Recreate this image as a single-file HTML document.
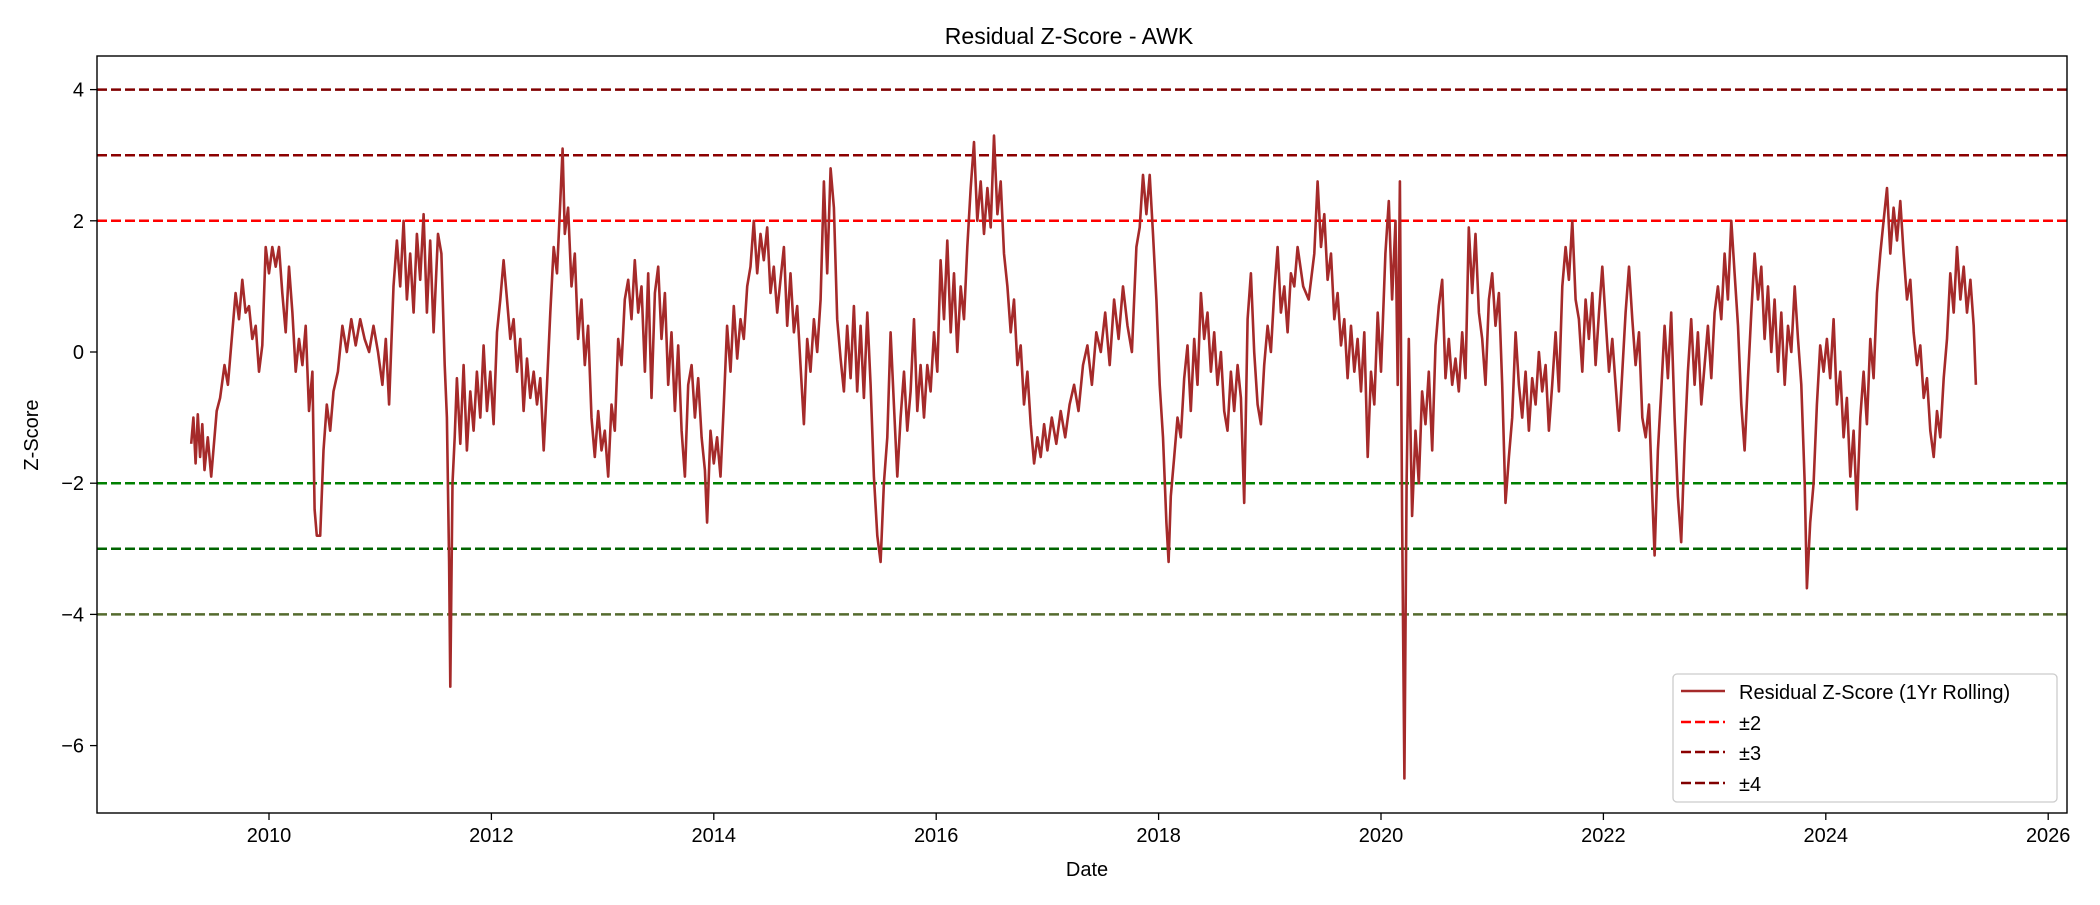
<!DOCTYPE html>
<html><head><meta charset="utf-8">
<style>
body{margin:0;background:#fff;}
svg text{font-family:"Liberation Sans","DejaVu Sans",sans-serif;fill:#000;}
</style></head>
<body>
<svg id="chart" width="2100" height="900" xmlns="http://www.w3.org/2000/svg">
<rect width="2100" height="900" fill="#fff"/>
<text x="1069" y="44" font-size="23" text-anchor="middle">Residual Z-Score - AWK</text>
<g id="plot"></g>
<rect x="97" y="56" width="1970" height="757" fill="none" stroke="#000" stroke-width="1.4"/>
<g id="yticks"></g><g id="xticks"></g>
<text x="1087" y="876" font-size="20" text-anchor="middle">Date</text>
<text transform="translate(38,435) rotate(-90)" font-size="20" text-anchor="middle">Z-Score</text>
<g>
<rect x="1673" y="674" width="384" height="128" rx="4" fill="#fff" fill-opacity="0.8" stroke="#ccc" stroke-width="1.3"/>
<line x1="1681" y1="691" x2="1725" y2="691" stroke="#a52a2a" stroke-width="2.5"/>
<text x="1739" y="699" font-size="20">Residual Z-Score (1Yr Rolling)</text>
<line x1="1681" y1="722" x2="1725" y2="722" stroke="#ff0000" stroke-width="2.5" stroke-dasharray="10,4"/>
<text x="1739" y="730" font-size="20">±2</text>
<line x1="1681" y1="752" x2="1725" y2="752" stroke="#8b0000" stroke-width="2.5" stroke-dasharray="10,4"/>
<text x="1739" y="760" font-size="20">±3</text>
<line x1="1681" y1="783" x2="1725" y2="783" stroke="#800000" stroke-width="2.5" stroke-dasharray="10,4"/>
<text x="1739" y="791" font-size="20">±4</text>
</g>
</svg>
<script>
const yTicks=[-6,-4,-2,0,2,4];
const xTicks=[2010,2012,2014,2016,2018,2020,2022,2024,2026];
const thresholdLevels=[4,3,2,-2,-3,-4];
const thresholdColors=["#800000","#8b0000","#ff0000","#008000","#006400","#556b2f"];
const raw=[
[2009.30,-1.4],[2009.32,-1.0],[2009.34,-1.7],[2009.36,-0.95],[2009.38,-1.6],[2009.40,-1.1],[2009.42,-1.8],[2009.45,-1.3],[2009.48,-1.9],[2009.50,-1.5],[2009.53,-0.9],[2009.56,-0.7],[2009.60,-0.2],[2009.63,-0.5],[2009.67,0.3],[2009.70,0.9],[2009.73,0.5],[2009.76,1.1],[2009.79,0.6],[2009.82,0.7],[2009.85,0.2],[2009.88,0.4],[2009.91,-0.3],[2009.94,0.1],[2009.97,1.6],[2010.00,1.2],[2010.03,1.6],[2010.06,1.3],[2010.09,1.6],[2010.12,0.9],[2010.15,0.3],[2010.18,1.3],[2010.21,0.6],[2010.24,-0.3],[2010.27,0.2],[2010.30,-0.2],[2010.33,0.4],[2010.36,-0.9],[2010.39,-0.3],[2010.41,-2.4],[2010.43,-2.8],[2010.46,-2.8],[2010.49,-1.5],[2010.52,-0.8],[2010.55,-1.2],[2010.58,-0.6],[2010.62,-0.3],[2010.66,0.4],[2010.70,0.0],[2010.74,0.5],[2010.78,0.1],[2010.82,0.5],[2010.86,0.2],[2010.90,0.0],[2010.94,0.4],[2010.98,0.0],[2011.02,-0.5],[2011.05,0.2],[2011.08,-0.8],[2011.12,1.0],[2011.15,1.7],[2011.18,1.0],[2011.21,2.0],[2011.24,0.8],[2011.27,1.5],[2011.30,0.6],[2011.33,1.8],[2011.36,1.1],[2011.39,2.1],[2011.42,0.6],[2011.45,1.7],[2011.48,0.3],[2011.52,1.8],[2011.55,1.5],[2011.58,-0.2],[2011.60,-1.0],[2011.62,-3.2],[2011.63,-5.1],[2011.65,-2.0],[2011.67,-1.3],[2011.69,-0.4],[2011.72,-1.4],[2011.75,-0.2],[2011.78,-1.5],[2011.81,-0.6],[2011.84,-1.2],[2011.87,-0.3],[2011.90,-1.0],[2011.93,0.1],[2011.96,-0.9],[2011.99,-0.3],[2012.02,-1.1],[2012.05,0.3],[2012.08,0.8],[2012.11,1.4],[2012.14,0.8],[2012.17,0.2],[2012.20,0.5],[2012.23,-0.3],[2012.26,0.2],[2012.29,-0.9],[2012.32,-0.1],[2012.35,-0.7],[2012.38,-0.3],[2012.41,-0.8],[2012.44,-0.4],[2012.47,-1.5],[2012.50,-0.5],[2012.53,0.6],[2012.56,1.6],[2012.59,1.2],[2012.62,2.3],[2012.64,3.1],[2012.66,1.8],[2012.69,2.2],[2012.72,1.0],[2012.75,1.5],[2012.78,0.2],[2012.81,0.8],[2012.84,-0.2],[2012.87,0.4],[2012.90,-1.0],[2012.93,-1.6],[2012.96,-0.9],[2012.99,-1.5],[2013.02,-1.2],[2013.05,-1.9],[2013.08,-0.8],[2013.11,-1.2],[2013.14,0.2],[2013.17,-0.2],[2013.20,0.8],[2013.23,1.1],[2013.26,0.5],[2013.29,1.4],[2013.32,0.6],[2013.35,1.0],[2013.38,-0.3],[2013.41,1.2],[2013.44,-0.7],[2013.47,0.9],[2013.50,1.3],[2013.53,0.2],[2013.56,0.9],[2013.59,-0.5],[2013.62,0.3],[2013.65,-0.9],[2013.68,0.1],[2013.71,-1.2],[2013.74,-1.9],[2013.77,-0.5],[2013.80,-0.2],[2013.83,-1.0],[2013.86,-0.4],[2013.89,-1.3],[2013.92,-1.8],[2013.94,-2.6],[2013.97,-1.2],[2014.00,-1.7],[2014.03,-1.3],[2014.06,-1.9],[2014.09,-0.8],[2014.12,0.4],[2014.15,-0.3],[2014.18,0.7],[2014.21,-0.1],[2014.24,0.5],[2014.27,0.2],[2014.30,1.0],[2014.33,1.3],[2014.36,2.0],[2014.39,1.2],[2014.42,1.8],[2014.45,1.4],[2014.48,1.9],[2014.51,0.9],[2014.54,1.3],[2014.57,0.6],[2014.60,1.1],[2014.63,1.6],[2014.66,0.4],[2014.69,1.2],[2014.72,0.3],[2014.75,0.7],[2014.78,-0.2],[2014.81,-1.1],[2014.84,0.2],[2014.87,-0.3],[2014.90,0.5],[2014.93,0.0],[2014.96,0.8],[2014.99,2.6],[2015.02,1.2],[2015.05,2.8],[2015.08,2.2],[2015.11,0.5],[2015.14,-0.1],[2015.17,-0.6],[2015.20,0.4],[2015.23,-0.4],[2015.26,0.7],[2015.29,-0.6],[2015.32,0.4],[2015.35,-0.7],[2015.38,0.6],[2015.41,-0.5],[2015.44,-1.9],[2015.47,-2.8],[2015.50,-3.2],[2015.53,-2.0],[2015.56,-1.3],[2015.59,0.3],[2015.62,-0.8],[2015.65,-1.9],[2015.68,-1.0],[2015.71,-0.3],[2015.74,-1.2],[2015.77,-0.6],[2015.80,0.5],[2015.83,-0.9],[2015.86,-0.2],[2015.89,-1.0],[2015.92,-0.2],[2015.95,-0.6],[2015.98,0.3],[2016.01,-0.3],[2016.04,1.4],[2016.07,0.5],[2016.10,1.7],[2016.13,0.3],[2016.16,1.2],[2016.19,0.0],[2016.22,1.0],[2016.25,0.5],[2016.28,1.6],[2016.31,2.5],[2016.34,3.2],[2016.37,2.0],[2016.40,2.6],[2016.43,1.8],[2016.46,2.5],[2016.49,1.9],[2016.52,3.3],[2016.55,2.1],[2016.58,2.6],[2016.61,1.5],[2016.64,1.0],[2016.67,0.3],[2016.70,0.8],[2016.73,-0.2],[2016.76,0.1],[2016.79,-0.8],[2016.82,-0.3],[2016.85,-1.1],[2016.88,-1.7],[2016.91,-1.3],[2016.94,-1.6],[2016.97,-1.1],[2017.00,-1.5],[2017.04,-1.0],[2017.08,-1.4],[2017.12,-0.9],[2017.16,-1.3],[2017.20,-0.8],[2017.24,-0.5],[2017.28,-0.9],[2017.32,-0.2],[2017.36,0.1],[2017.40,-0.5],[2017.44,0.3],[2017.48,0.0],[2017.52,0.6],[2017.56,-0.2],[2017.60,0.8],[2017.64,0.2],[2017.68,1.0],[2017.72,0.4],[2017.76,0.0],[2017.80,1.6],[2017.83,1.9],[2017.86,2.7],[2017.89,2.1],[2017.92,2.7],[2017.95,1.8],[2017.98,0.8],[2018.01,-0.5],[2018.04,-1.3],[2018.07,-2.6],[2018.09,-3.2],[2018.11,-2.2],[2018.14,-1.6],[2018.17,-1.0],[2018.20,-1.3],[2018.23,-0.4],[2018.26,0.1],[2018.29,-0.9],[2018.32,0.2],[2018.35,-0.5],[2018.38,0.9],[2018.41,0.2],[2018.44,0.6],[2018.47,-0.3],[2018.50,0.3],[2018.53,-0.5],[2018.56,0.0],[2018.59,-0.9],[2018.62,-1.2],[2018.65,-0.3],[2018.68,-0.9],[2018.71,-0.2],[2018.74,-0.7],[2018.77,-2.3],[2018.80,0.5],[2018.83,1.2],[2018.86,0.0],[2018.89,-0.8],[2018.92,-1.1],[2018.95,-0.2],[2018.98,0.4],[2019.01,0.0],[2019.04,0.9],[2019.07,1.6],[2019.10,0.6],[2019.13,1.0],[2019.16,0.3],[2019.19,1.2],[2019.22,1.0],[2019.25,1.6],[2019.30,1.0],[2019.35,0.8],[2019.40,1.5],[2019.43,2.6],[2019.46,1.6],[2019.49,2.1],[2019.52,1.1],[2019.55,1.5],[2019.58,0.5],[2019.61,0.9],[2019.64,0.1],[2019.67,0.5],[2019.70,-0.4],[2019.73,0.4],[2019.76,-0.3],[2019.79,0.2],[2019.82,-0.6],[2019.85,0.3],[2019.88,-1.6],[2019.91,-0.3],[2019.94,-0.8],[2019.97,0.6],[2020.00,-0.3],[2020.04,1.5],[2020.07,2.3],[2020.10,0.8],[2020.13,2.0],[2020.15,-0.5],[2020.17,2.6],[2020.19,-2.5],[2020.21,-6.5],[2020.23,-2.0],[2020.25,0.2],[2020.28,-2.5],[2020.31,-1.2],[2020.34,-2.0],[2020.37,-0.6],[2020.40,-1.1],[2020.43,-0.3],[2020.46,-1.5],[2020.49,0.1],[2020.52,0.7],[2020.55,1.1],[2020.58,-0.4],[2020.61,0.2],[2020.64,-0.5],[2020.67,-0.1],[2020.70,-0.6],[2020.73,0.3],[2020.76,-0.4],[2020.79,1.9],[2020.82,0.9],[2020.85,1.8],[2020.88,0.6],[2020.91,0.2],[2020.94,-0.5],[2020.97,0.8],[2021.00,1.2],[2021.03,0.4],[2021.06,0.9],[2021.09,-0.5],[2021.12,-2.3],[2021.15,-1.6],[2021.18,-1.0],[2021.21,0.3],[2021.24,-0.5],[2021.27,-1.0],[2021.30,-0.3],[2021.33,-1.2],[2021.36,-0.4],[2021.39,-0.8],[2021.42,0.0],[2021.45,-0.6],[2021.48,-0.2],[2021.51,-1.2],[2021.54,-0.5],[2021.57,0.3],[2021.60,-0.6],[2021.63,1.0],[2021.66,1.6],[2021.69,1.1],[2021.72,2.0],[2021.75,0.8],[2021.78,0.5],[2021.81,-0.3],[2021.84,0.8],[2021.87,0.2],[2021.90,0.9],[2021.93,-0.2],[2021.96,0.6],[2021.99,1.3],[2022.02,0.5],[2022.05,-0.3],[2022.08,0.2],[2022.11,-0.5],[2022.14,-1.2],[2022.17,-0.3],[2022.20,0.6],[2022.23,1.3],[2022.26,0.5],[2022.29,-0.2],[2022.32,0.3],[2022.35,-1.0],[2022.38,-1.3],[2022.41,-0.8],[2022.44,-2.2],[2022.46,-3.1],[2022.49,-1.5],[2022.52,-0.6],[2022.55,0.4],[2022.58,-0.4],[2022.61,0.6],[2022.64,-1.0],[2022.67,-2.2],[2022.70,-2.9],[2022.73,-1.4],[2022.76,-0.3],[2022.79,0.5],[2022.82,-0.5],[2022.85,0.3],[2022.88,-0.8],[2022.91,-0.2],[2022.94,0.4],[2022.97,-0.4],[2023.00,0.6],[2023.03,1.0],[2023.06,0.5],[2023.09,1.5],[2023.12,0.8],[2023.15,2.0],[2023.18,1.2],[2023.21,0.4],[2023.24,-0.8],[2023.27,-1.5],[2023.30,-0.4],[2023.33,0.6],[2023.36,1.5],[2023.39,0.8],[2023.42,1.3],[2023.45,0.2],[2023.48,1.0],[2023.51,0.0],[2023.54,0.8],[2023.57,-0.3],[2023.60,0.6],[2023.63,-0.5],[2023.66,0.4],[2023.69,0.0],[2023.72,1.0],[2023.75,0.2],[2023.78,-0.5],[2023.81,-2.0],[2023.83,-3.6],[2023.86,-2.6],[2023.89,-2.0],[2023.92,-0.8],[2023.95,0.1],[2023.98,-0.3],[2024.01,0.2],[2024.04,-0.4],[2024.07,0.5],[2024.10,-0.8],[2024.13,-0.3],[2024.16,-1.3],[2024.19,-0.7],[2024.22,-1.9],[2024.25,-1.2],[2024.28,-2.4],[2024.31,-1.0],[2024.34,-0.3],[2024.37,-1.1],[2024.40,0.2],[2024.43,-0.4],[2024.46,0.9],[2024.49,1.5],[2024.52,2.0],[2024.55,2.5],[2024.58,1.5],[2024.61,2.2],[2024.64,1.7],[2024.67,2.3],[2024.70,1.5],[2024.73,0.8],[2024.76,1.1],[2024.79,0.3],[2024.82,-0.2],[2024.85,0.1],[2024.88,-0.7],[2024.91,-0.4],[2024.94,-1.2],[2024.97,-1.6],[2025.00,-0.9],[2025.03,-1.3],[2025.06,-0.4],[2025.09,0.2],[2025.12,1.2],[2025.15,0.6],[2025.18,1.6],[2025.21,0.8],[2025.24,1.3],[2025.27,0.6],[2025.30,1.1],[2025.33,0.4],[2025.35,-0.5]
];
const seriesDates=raw.map(p=>p[0]);
const seriesValues=raw.map(p=>p[1]);
const NS='http://www.w3.org/2000/svg';
const plot=document.getElementById('plot');
const X0=97,X1=2067;
function xsc(t){return 269+(t-2010)*111.2;}
function ysc(v){return 352-v*65.6;}
thresholdLevels.forEach((lv,i)=>{
  const l=document.createElementNS(NS,'line');
  
  
  l.setAttribute('x1',X0);l.setAttribute('x2',X1);
  l.setAttribute('y1',ysc(lv));l.setAttribute('y2',ysc(lv));
  l.setAttribute('stroke',thresholdColors[i]);l.setAttribute('stroke-width','2.5');
  l.setAttribute('stroke-dasharray','10,4');
  plot.appendChild(l);
});
let d='';
seriesDates.forEach((t,i)=>{d+=(i?'L':'M')+xsc(t).toFixed(1)+','+ysc(seriesValues[i]).toFixed(1);});
const path=document.createElementNS(NS,'path');


path.setAttribute('d',d);path.setAttribute('fill','none');
path.setAttribute('stroke','#a52a2a');path.setAttribute('stroke-width','2.6');
path.setAttribute('stroke-linejoin','round');
plot.appendChild(path);
const yg=document.getElementById('yticks');
yTicks.forEach(v=>{
  const y=ysc(v);
  const tk=document.createElementNS(NS,'line');
  
  
  tk.setAttribute('x1',90);tk.setAttribute('x2',97);tk.setAttribute('y1',y);tk.setAttribute('y2',y);
  tk.setAttribute('stroke','#000');tk.setAttribute('stroke-width','1.3');
  yg.appendChild(tk);
  const tx=document.createElementNS(NS,'text');
  
  
  tx.setAttribute('x',84);tx.setAttribute('y',y+7);tx.setAttribute('font-size','20');
  tx.setAttribute('text-anchor','end');
  tx.textContent=(v<0?'\u2212'+Math.abs(v):String(v));
  yg.appendChild(tx);
});
const xg=document.getElementById('xticks');
xTicks.forEach(t=>{
  const x=xsc(t);
  const tk=document.createElementNS(NS,'line');
  
  
  tk.setAttribute('x1',x);tk.setAttribute('x2',x);tk.setAttribute('y1',813);tk.setAttribute('y2',820);
  tk.setAttribute('stroke','#000');tk.setAttribute('stroke-width','1.3');
  xg.appendChild(tk);
  const tx=document.createElementNS(NS,'text');
  
  
  tx.setAttribute('x',x);tx.setAttribute('y',842);tx.setAttribute('font-size','20');
  tx.setAttribute('text-anchor','middle');
  tx.textContent=String(t);
  xg.appendChild(tx);
});
</script>
</body></html>
